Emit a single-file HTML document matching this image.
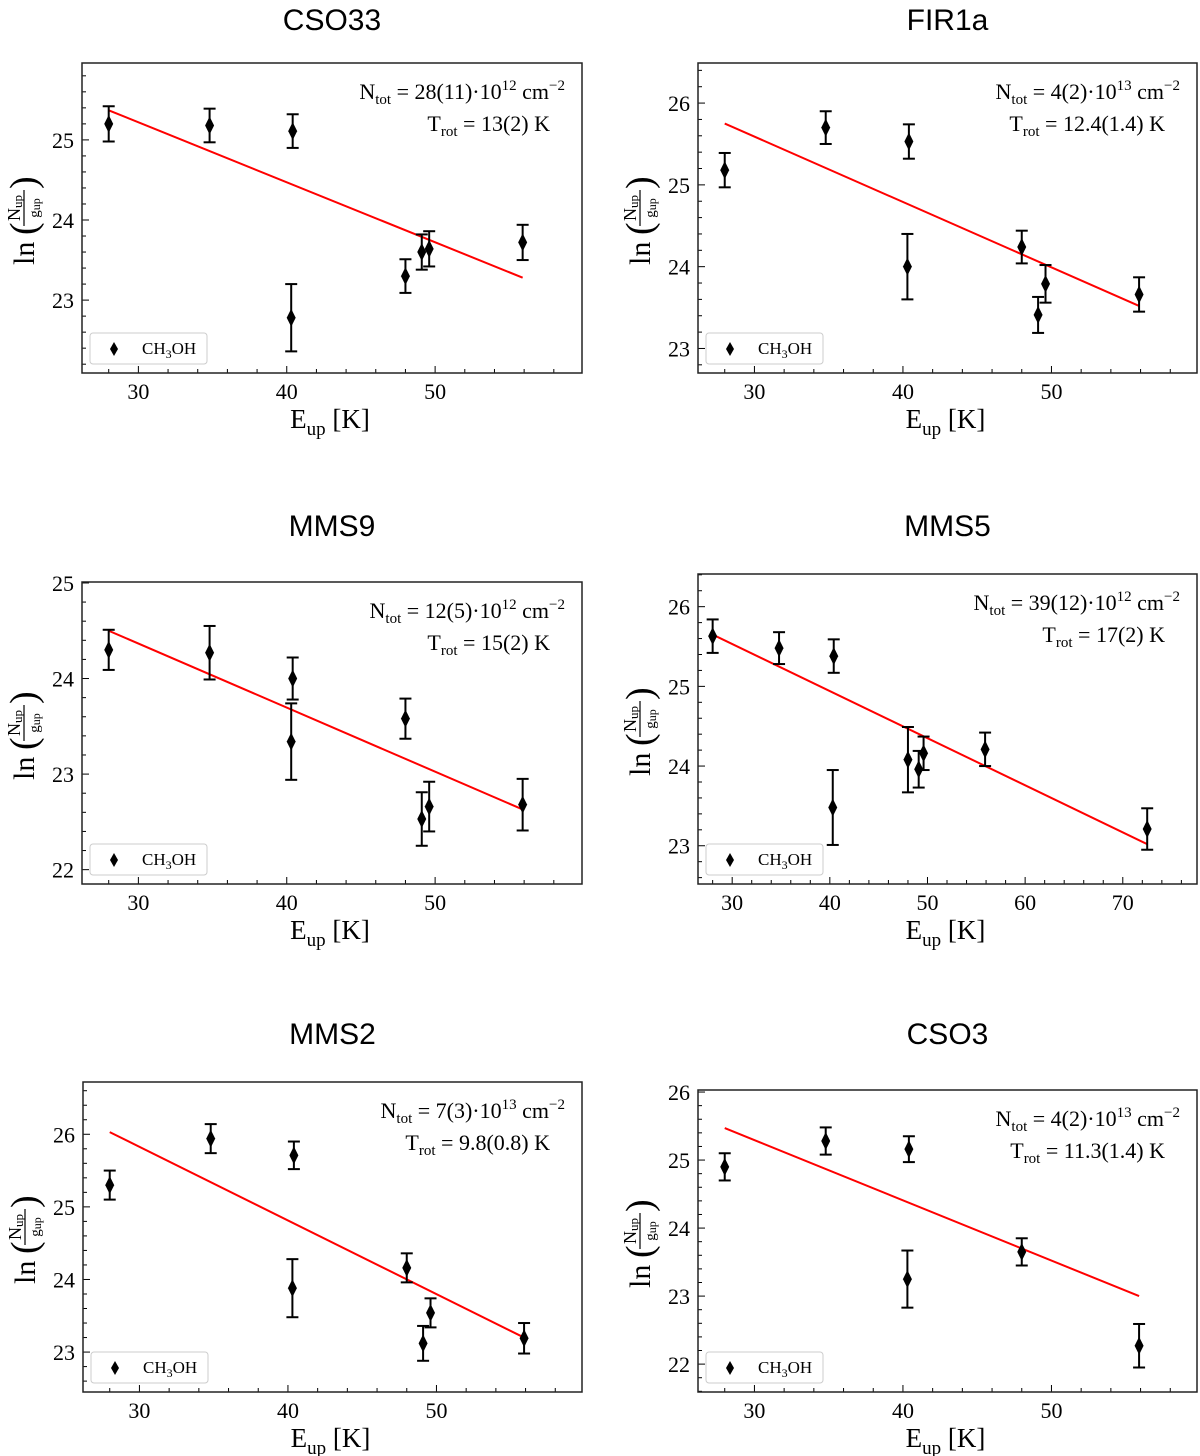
<!DOCTYPE html>
<html><head><meta charset="utf-8">
<style>
body{margin:0;background:#fff;}
svg{display:block;}
.serif{font-family:"Liberation Serif",serif;}
.sans{font-family:"Liberation Sans",sans-serif;}
</style></head>
<body>
<svg id="fig" width="1200" height="1456" xmlns="http://www.w3.org/2000/svg"></svg>
<script>
// Shared upper-level energies (K)
const eupCommon = [28.0, 34.8, 40.4, 40.3, 48.0, 49.1, 49.6, 55.9];
// CSO33
const cso33Y = [25.2, 25.18, 25.11, 22.78, 23.3, 23.6, 23.64, 23.72];
const cso33Err = [0.22, 0.21, 0.21, 0.42, 0.21, 0.22, 0.22, 0.22];
const cso33Fit = [25.37, 23.28];
// FIR1a
const fir1aY = [25.18, 25.7, 25.53, 24.0, 24.24, 23.41, 23.79, 23.66];
const fir1aErr = [0.21, 0.2, 0.21, 0.4, 0.2, 0.22, 0.23, 0.21];
const fir1aFit = [25.75, 23.52];
// MMS9
const mms9Y = [24.3, 24.27, 24.0, 23.34, 23.58, 22.53, 22.66, 22.68];
const mms9Err = [0.21, 0.28, 0.22, 0.4, 0.21, 0.28, 0.26, 0.27];
const mms9Fit = [24.5, 22.63];
// MMS5
const mms5X = [28.0, 34.8, 40.4, 40.3, 48.0, 49.1, 49.6, 55.9, 72.5];
const mms5Y = [25.63, 25.48, 25.38, 23.48, 24.08, 23.96, 24.16, 24.21, 23.21];
const mms5Err = [0.21, 0.2, 0.21, 0.47, 0.41, 0.23, 0.21, 0.21, 0.26];
const mms5Fit = [25.65, 23.02];
// MMS2
const mms2Y = [25.3, 25.94, 25.71, 23.88, 24.16, 23.12, 23.54, 23.19];
const mms2Err = [0.2, 0.2, 0.19, 0.4, 0.2, 0.24, 0.2, 0.21];
const mms2Fit = [26.03, 23.2];
// CSO3
const cso3X = [28.0, 34.8, 40.4, 40.3, 48.0, 55.9];
const cso3Y = [24.9, 25.28, 25.16, 23.25, 23.65, 22.27];
const cso3Err = [0.2, 0.2, 0.19, 0.42, 0.2, 0.32];
const cso3Fit = [25.47, 23.0];
// Tick labels
const xTicksA = [30, 40, 50];
const xTicksB = [30, 40, 50, 60, 70];

const NS = "http://www.w3.org/2000/svg";
const fig = document.getElementById('fig');
function mk(tag, attrs, parent, text){
  const e = document.createElementNS(NS, tag);
  for (const k in attrs) e.setAttribute(k, attrs[k]);
  if (text !== undefined) e.textContent = text;
  (parent || fig).appendChild(e);
  return e;
}

const panels = [
  {key:'cso33', title:'CSO33', ty:30, box:[82,63,582,373], xr:[26.2,59.9], yr:[22.09,25.96], yt:[23,24,25], xt:xTicksA,
   xs:eupCommon, ys:cso33Y, es:cso33Err, fit:cso33Fit, fitX:[28.0,55.9], n:'28(11)', ex:'12', t:'13(2)'},
  {key:'fir1a', title:'FIR1a', ty:30, box:[698,63,1197,373], xr:[26.2,59.8], yr:[22.7,26.49], yt:[23,24,25,26], xt:xTicksA,
   xs:eupCommon, ys:fir1aY, es:fir1aErr, fit:fir1aFit, fitX:[28.0,55.9], n:'4(2)', ex:'13', t:'12.4(1.4)'},
  {key:'mms9', title:'MMS9', ty:536, box:[82,582,582,884], xr:[26.2,59.9], yr:[21.85,25.01], yt:[22,23,24,25], xt:xTicksA,
   xs:eupCommon, ys:mms9Y, es:mms9Err, fit:mms9Fit, fitX:[28.0,55.9], n:'12(5)', ex:'12', t:'15(2)'},
  {key:'mms5', title:'MMS5', ty:536, box:[698,574,1197,884], xr:[26.5,77.6], yr:[22.52,26.41], yt:[23,24,25,26], xt:xTicksB,
   xs:mms5X, ys:mms5Y, es:mms5Err, fit:mms5Fit, fitX:[28.0,72.5], n:'39(12)', ex:'12', t:'17(2)'},
  {key:'mms2', title:'MMS2', ty:1044, box:[83,1082,582,1392], xr:[26.2,59.8], yr:[22.45,26.72], yt:[23,24,25,26], xt:xTicksA,
   xs:eupCommon, ys:mms2Y, es:mms2Err, fit:mms2Fit, fitX:[28.0,55.9], n:'7(3)', ex:'13', t:'9.8(0.8)'},
  {key:'cso3', title:'CSO3', ty:1044, box:[698,1090,1197,1392], xr:[26.2,59.8], yr:[21.59,26.03], yt:[22,23,24,25,26], xt:xTicksA,
   xs:cso3X, ys:cso3Y, es:cso3Err, fit:cso3Fit, fitX:[28.0,55.9], n:'4(2)', ex:'13', t:'11.3(1.4)'}
];

panels.forEach(p => {
  const [x0,y0,x1,y1] = p.box;
  const X = v => x0 + (v - p.xr[0]) / (p.xr[1]-p.xr[0]) * (x1-x0);
  const Y = v => y1 - (v - p.yr[0]) / (p.yr[1]-p.yr[0]) * (y1-y0);
  const g = mk('g', {});
  
  

  const cx = (x0+x1)/2;
  const tt = mk('text', {x:cx, y:p.ty, 'text-anchor':'middle', 'font-size':30, class:'sans'}, g, p.title);
  
  

  // ticks
  const tg = mk('g', {stroke:'#000', 'stroke-width':1}, g);
  
  
  for (let v = Math.ceil(p.xr[0]/2)*2; v <= p.xr[1]; v += 2) {
    const major = v % 10 === 0;
    mk('line', {x1:X(v), x2:X(v), y1:y1, y2:y1-(major?7:4)}, tg);
  }
  for (let v = Math.ceil(p.yr[0]*5)/5; v <= p.yr[1]+1e-9; v += 0.2) {
    const major = Math.abs(v - Math.round(v)) < 1e-6;
    mk('line', {x1:x0, x2:x0+(major?7:4), y1:Y(v), y2:Y(v)}, tg);
  }
  p.xt.forEach(v => {
    const t = mk('text', {x:X(v), y:y1+26, 'text-anchor':'middle', 'font-size':22, class:'serif'}, g, String(v));
    
    
  });
  p.yt.forEach(v => {
    const t = mk('text', {x:x0-8, y:Y(v)+8, 'text-anchor':'end', 'font-size':22, class:'serif'}, g, String(v));
    
    
  });

  // axis labels
  const xl = mk('text', {x:cx-2, y:y1+55, 'text-anchor':'middle', 'font-size':27, class:'serif'}, g);
  
  
  mk('tspan', {}, xl, 'E');
  mk('tspan', {dy:7, 'font-size':19}, xl, 'up');
  mk('tspan', {dy:-7}, xl, ' [K]');

  const ymid = (y0+y1)/2;
  const yl = mk('g', {transform:`translate(${x0-58},${ymid}) rotate(-90)`, class:'serif'}, g);
  
  
  mk('text', {x:-47, y:10, 'font-size':30}, yl, 'ln');
  mk('text', {x:-17, y:12, 'font-size':38}, yl, '(');
  const nt = mk('text', {x:10, y:-4, 'text-anchor':'middle', 'font-size':18}, yl);
  mk('tspan', {}, nt, 'N');
  mk('tspan', {'font-size':13, dy:2}, nt, 'up');
  mk('line', {x1:-8, x2:28, y1:0, y2:0, stroke:'#000', 'stroke-width':1.2}, yl);
  const gt = mk('text', {x:10, y:15, 'text-anchor':'middle', 'font-size':15}, yl);
  mk('tspan', {}, gt, 'g');
  mk('tspan', {'font-size':12, dy:1}, gt, 'up');
  mk('text', {x:29, y:12, 'font-size':38}, yl, ')');

  // fit line
  const fl = mk('line', {x1:X(p.fitX[0]), y1:Y(p.fit[0]), x2:X(p.fitX[1]), y2:Y(p.fit[1]), stroke:'#ff0000', 'stroke-width':2}, g);
  
  

  // points
  p.xs.forEach((xv, i) => {
    const px = X(xv), py = Y(p.ys[i]), ylo = Y(p.ys[i]-p.es[i]), yhi = Y(p.ys[i]+p.es[i]);
    const pg = mk('g', {stroke:'#000', 'stroke-width':2}, g);
    
    
    mk('line', {x1:px, x2:px, y1:ylo, y2:yhi}, pg);
    mk('line', {x1:px-6, x2:px+6, y1:ylo, y2:ylo}, pg);
    mk('line', {x1:px-6, x2:px+6, y1:yhi, y2:yhi}, pg);
    mk('path', {d:`M${px},${py-9} L${px+4.5},${py} L${px},${py+9} L${px-4.5},${py} Z`, fill:'#000', stroke:'none'}, pg);
  });

  // annotation
  const an = mk('g', {class:'serif', 'font-size':22}, g);
  
  
  const t1 = mk('text', {x:x1-17, y:y0+36, 'text-anchor':'end'}, an);
  mk('tspan', {}, t1, 'N');
  mk('tspan', {dy:5, 'font-size':15}, t1, 'tot');
  mk('tspan', {dy:-5}, t1, ' = ' + p.n + '·10');
  mk('tspan', {dy:-9, 'font-size':15}, t1, p.ex);
  mk('tspan', {dy:9}, t1, ' cm');
  mk('tspan', {dy:-9, 'font-size':15}, t1, '−2');
  const t2 = mk('text', {x:x1-32, y:y0+68, 'text-anchor':'end'}, an);
  mk('tspan', {}, t2, 'T');
  mk('tspan', {dy:5, 'font-size':15}, t2, 'rot');
  mk('tspan', {dy:-5}, t2, ' = ' + p.t + ' K');

  // legend
  const lg = mk('g', {}, g);
  
  
  mk('rect', {x:x0+8, y:y1-40, width:117, height:31, rx:3, fill:'#fff', stroke:'#ccc', 'stroke-width':1}, lg);
  const lx = x0+32, ly = y1-24;
  mk('path', {d:`M${lx},${ly-7} L${lx+4},${ly} L${lx},${ly+7} L${lx-4},${ly} Z`, fill:'#000'}, lg);
  const lt = mk('text', {x:x0+60, y:y1-19, 'font-size':17, class:'serif'}, lg);
  mk('tspan', {}, lt, 'CH');
  mk('tspan', {dy:4, 'font-size':12}, lt, '3');
  mk('tspan', {dy:-4}, lt, 'OH');

  // frame
  const fr = mk('rect', {x:x0, y:y0, width:x1-x0, height:y1-y0, fill:'none', stroke:'#222', 'stroke-width':1.5}, g);
  
  
});
</script>
</body></html>
